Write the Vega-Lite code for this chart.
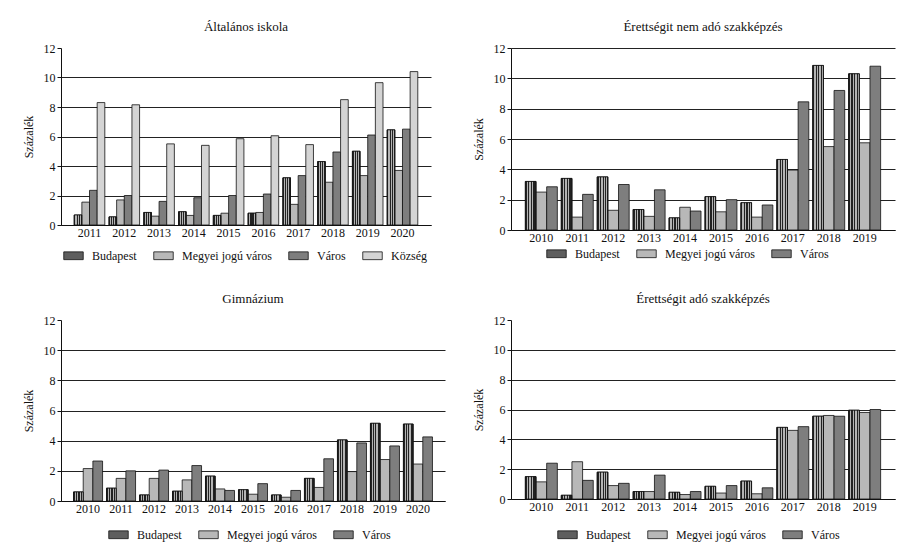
{
  "$schema": "https://vega.github.io/schema/vega-lite/v6.json",
  "background": "white",
  "padding": {"left": 22, "top": 21, "right": 4, "bottom": 4},
  "columns": 2,
  "spacing": {"row": 31, "column": 27},
  "config": {
    "font": "Liberation Serif, DejaVu Serif, serif",
    "view": {"stroke": null},
    "title": {"font": "Liberation Serif, DejaVu Serif, serif", "fontSize": 13, "fontWeight": "normal", "color": "#111", "offset": 8},
    "axis": {"labelFont": "Liberation Serif, DejaVu Serif, serif", "titleFont": "Liberation Serif, DejaVu Serif, serif", "labelFontSize": 12, "titleFontSize": 12, "titleFontWeight": "normal", "labelColor": "#111", "titleColor": "#111", "domainColor": "#111", "tickColor": "#111"},
    "axisX": {"ticks": false, "labelAngle": 0, "grid": false, "labelPadding": 2, "domainWidth": 1.2},
    "axisY": {"grid": true, "gridColor": "#222", "gridWidth": 1, "tickSize": 4, "labelPadding": 2, "titlePadding": 8, "domainWidth": 1},
    "legend": {"labelFont": "Liberation Serif, DejaVu Serif, serif", "labelFontSize": 12, "labelColor": "#111", "symbolStrokeColor": "#111", "symbolStrokeWidth": 0.8, "symbolType": "M-1,-0.4H1V0.4H-1Z", "symbolSize": 380, "columnPadding": 15, "labelOffset": 8},
    "bar": {"stroke": "#111", "strokeWidth": 0.8}
  },
  "datasets": {
    "alt": [
      {"ev":"2011","tipus":"Budapest","ertek":0.68},{"ev":"2011","tipus":"Megyei jogú város","ertek":1.55},{"ev":"2011","tipus":"Város","ertek":2.35},{"ev":"2011","tipus":"Község","ertek":8.3},
      {"ev":"2012","tipus":"Budapest","ertek":0.55},{"ev":"2012","tipus":"Megyei jogú város","ertek":1.7},{"ev":"2012","tipus":"Város","ertek":2.0},{"ev":"2012","tipus":"Község","ertek":8.15},
      {"ev":"2013","tipus":"Budapest","ertek":0.85},{"ev":"2013","tipus":"Megyei jogú város","ertek":0.6},{"ev":"2013","tipus":"Város","ertek":1.6},{"ev":"2013","tipus":"Község","ertek":5.5},
      {"ev":"2014","tipus":"Budapest","ertek":0.9},{"ev":"2014","tipus":"Megyei jogú város","ertek":0.65},{"ev":"2014","tipus":"Város","ertek":1.85},{"ev":"2014","tipus":"Község","ertek":5.4},
      {"ev":"2015","tipus":"Budapest","ertek":0.65},{"ev":"2015","tipus":"Megyei jogú város","ertek":0.8},{"ev":"2015","tipus":"Város","ertek":2.0},{"ev":"2015","tipus":"Község","ertek":5.85},
      {"ev":"2016","tipus":"Budapest","ertek":0.8},{"ev":"2016","tipus":"Megyei jogú város","ertek":0.85},{"ev":"2016","tipus":"Város","ertek":2.1},{"ev":"2016","tipus":"Község","ertek":6.05},
      {"ev":"2017","tipus":"Budapest","ertek":3.2},{"ev":"2017","tipus":"Megyei jogú város","ertek":1.4},{"ev":"2017","tipus":"Város","ertek":3.35},{"ev":"2017","tipus":"Község","ertek":5.45},
      {"ev":"2018","tipus":"Budapest","ertek":4.3},{"ev":"2018","tipus":"Megyei jogú város","ertek":2.9},{"ev":"2018","tipus":"Város","ertek":4.95},{"ev":"2018","tipus":"Község","ertek":8.5},
      {"ev":"2019","tipus":"Budapest","ertek":5.0},{"ev":"2019","tipus":"Megyei jogú város","ertek":3.35},{"ev":"2019","tipus":"Város","ertek":6.1},{"ev":"2019","tipus":"Község","ertek":9.65},
      {"ev":"2020","tipus":"Budapest","ertek":6.45},{"ev":"2020","tipus":"Megyei jogú város","ertek":3.7},{"ev":"2020","tipus":"Város","ertek":6.5},{"ev":"2020","tipus":"Község","ertek":10.4}
    ],
    "nem": [
      {"ev":"2010","tipus":"Budapest","ertek":3.2},{"ev":"2010","tipus":"Megyei jogú város","ertek":2.5},{"ev":"2010","tipus":"Város","ertek":2.85},
      {"ev":"2011","tipus":"Budapest","ertek":3.4},{"ev":"2011","tipus":"Megyei jogú város","ertek":0.85},{"ev":"2011","tipus":"Város","ertek":2.35},
      {"ev":"2012","tipus":"Budapest","ertek":3.5},{"ev":"2012","tipus":"Megyei jogú város","ertek":1.3},{"ev":"2012","tipus":"Város","ertek":3.0},
      {"ev":"2013","tipus":"Budapest","ertek":1.35},{"ev":"2013","tipus":"Megyei jogú város","ertek":0.9},{"ev":"2013","tipus":"Város","ertek":2.65},
      {"ev":"2014","tipus":"Budapest","ertek":0.8},{"ev":"2014","tipus":"Megyei jogú város","ertek":1.5},{"ev":"2014","tipus":"Város","ertek":1.25},
      {"ev":"2015","tipus":"Budapest","ertek":2.2},{"ev":"2015","tipus":"Megyei jogú város","ertek":1.2},{"ev":"2015","tipus":"Város","ertek":2.0},
      {"ev":"2016","tipus":"Budapest","ertek":1.8},{"ev":"2016","tipus":"Megyei jogú város","ertek":0.85},{"ev":"2016","tipus":"Város","ertek":1.65},
      {"ev":"2017","tipus":"Budapest","ertek":4.65},{"ev":"2017","tipus":"Megyei jogú város","ertek":3.95},{"ev":"2017","tipus":"Város","ertek":8.45},
      {"ev":"2018","tipus":"Budapest","ertek":10.85},{"ev":"2018","tipus":"Megyei jogú város","ertek":5.5},{"ev":"2018","tipus":"Város","ertek":9.2},
      {"ev":"2019","tipus":"Budapest","ertek":10.3},{"ev":"2019","tipus":"Megyei jogú város","ertek":5.75},{"ev":"2019","tipus":"Város","ertek":10.8}
    ],
    "gim": [
      {"ev":"2010","tipus":"Budapest","ertek":0.6},{"ev":"2010","tipus":"Megyei jogú város","ertek":2.15},{"ev":"2010","tipus":"Város","ertek":2.65},
      {"ev":"2011","tipus":"Budapest","ertek":0.85},{"ev":"2011","tipus":"Megyei jogú város","ertek":1.5},{"ev":"2011","tipus":"Város","ertek":2.0},
      {"ev":"2012","tipus":"Budapest","ertek":0.4},{"ev":"2012","tipus":"Megyei jogú város","ertek":1.5},{"ev":"2012","tipus":"Város","ertek":2.05},
      {"ev":"2013","tipus":"Budapest","ertek":0.65},{"ev":"2013","tipus":"Megyei jogú város","ertek":1.4},{"ev":"2013","tipus":"Város","ertek":2.35},
      {"ev":"2014","tipus":"Budapest","ertek":1.65},{"ev":"2014","tipus":"Megyei jogú város","ertek":0.8},{"ev":"2014","tipus":"Város","ertek":0.7},
      {"ev":"2015","tipus":"Budapest","ertek":0.75},{"ev":"2015","tipus":"Megyei jogú város","ertek":0.45},{"ev":"2015","tipus":"Város","ertek":1.15},
      {"ev":"2016","tipus":"Budapest","ertek":0.4},{"ev":"2016","tipus":"Megyei jogú város","ertek":0.25},{"ev":"2016","tipus":"Város","ertek":0.7},
      {"ev":"2017","tipus":"Budapest","ertek":1.5},{"ev":"2017","tipus":"Megyei jogú város","ertek":0.9},{"ev":"2017","tipus":"Város","ertek":2.8},
      {"ev":"2018","tipus":"Budapest","ertek":4.05},{"ev":"2018","tipus":"Megyei jogú város","ertek":1.95},{"ev":"2018","tipus":"Város","ertek":3.85},
      {"ev":"2019","tipus":"Budapest","ertek":5.15},{"ev":"2019","tipus":"Megyei jogú város","ertek":2.75},{"ev":"2019","tipus":"Város","ertek":3.65},
      {"ev":"2020","tipus":"Budapest","ertek":5.1},{"ev":"2020","tipus":"Megyei jogú város","ertek":2.45},{"ev":"2020","tipus":"Város","ertek":4.25}
    ],
    "ado": [
      {"ev":"2010","tipus":"Budapest","ertek":1.5},{"ev":"2010","tipus":"Megyei jogú város","ertek":1.15},{"ev":"2010","tipus":"Város","ertek":2.4},
      {"ev":"2011","tipus":"Budapest","ertek":0.25},{"ev":"2011","tipus":"Megyei jogú város","ertek":2.5},{"ev":"2011","tipus":"Város","ertek":1.25},
      {"ev":"2012","tipus":"Budapest","ertek":1.8},{"ev":"2012","tipus":"Megyei jogú város","ertek":0.9},{"ev":"2012","tipus":"Város","ertek":1.05},
      {"ev":"2013","tipus":"Budapest","ertek":0.5},{"ev":"2013","tipus":"Megyei jogú város","ertek":0.5},{"ev":"2013","tipus":"Város","ertek":1.6},
      {"ev":"2014","tipus":"Budapest","ertek":0.45},{"ev":"2014","tipus":"Megyei jogú város","ertek":0.3},{"ev":"2014","tipus":"Város","ertek":0.5},
      {"ev":"2015","tipus":"Budapest","ertek":0.85},{"ev":"2015","tipus":"Megyei jogú város","ertek":0.4},{"ev":"2015","tipus":"Város","ertek":0.9},
      {"ev":"2016","tipus":"Budapest","ertek":1.2},{"ev":"2016","tipus":"Megyei jogú város","ertek":0.35},{"ev":"2016","tipus":"Város","ertek":0.75},
      {"ev":"2017","tipus":"Budapest","ertek":4.8},{"ev":"2017","tipus":"Megyei jogú város","ertek":4.6},{"ev":"2017","tipus":"Város","ertek":4.85},
      {"ev":"2018","tipus":"Budapest","ertek":5.55},{"ev":"2018","tipus":"Megyei jogú város","ertek":5.6},{"ev":"2018","tipus":"Város","ertek":5.55},
      {"ev":"2019","tipus":"Budapest","ertek":5.95},{"ev":"2019","tipus":"Megyei jogú város","ertek":5.8},{"ev":"2019","tipus":"Város","ertek":6.0}
    ]
  },
  "resolve": {"scale": {"x": "independent", "y": "independent", "xOffset": "independent", "fill": "independent"}, "legend": {"fill": "independent"}, "axis": {"x": "independent", "y": "independent"}},
  "concat": [
    {
      "title": "Általános iskola",
      "width": 370, "height": 177,
      "data": {"name": "alt"},
      "encoding": {
        "x": {"field": "ev", "type": "ordinal", "title": null, "scale": {"paddingInner": 0.12, "paddingOuter": 0.38}},
        "xOffset": {"field": "tipus", "type": "nominal", "scale": {"domain": ["Budapest", "Megyei jogú város", "Város", "Község"]}},
        "y": {"field": "ertek", "type": "quantitative", "title": "Százalék", "scale": {"domain": [0, 12]}, "axis": {"values": [0, 2, 4, 6, 8, 10, 12], "gridColor": {"condition": {"test": "datum.value == 12", "value": "transparent"}, "value": "#222"}}}
      },
      "layer": [
        {
          "mark": {"type": "bar"},
          "encoding": {
            "fill": {"field": "tipus", "type": "nominal", "scale": {"domain": ["Budapest", "Megyei jogú város", "Város", "Község"], "range": ["#5e5e5e", "#b8b8b8", "#7e7e7e", "#d4d4d4"]}, "legend": {"title": null, "orient": "none", "direction": "horizontal", "legendX": 2, "legendY": 197}}
          }
        },
        {
          "transform": [{"filter": "datum.tipus === 'Budapest'"}],
          "mark": {"type": "bar", "fill": {"gradient": "linear", "x1": 0, "y1": 0, "x2": 1, "y2": 0, "stops": [{"offset": 0, "color": "#222"}, {"offset": 0.16, "color": "#222"}, {"offset": 0.16, "color": "#b4b4b4"}, {"offset": 0.31, "color": "#b4b4b4"}, {"offset": 0.31, "color": "#222"}, {"offset": 0.45, "color": "#222"}, {"offset": 0.45, "color": "#b4b4b4"}, {"offset": 0.57, "color": "#b4b4b4"}, {"offset": 0.57, "color": "#222"}, {"offset": 0.71, "color": "#222"}, {"offset": 0.71, "color": "#b4b4b4"}, {"offset": 0.85, "color": "#b4b4b4"}, {"offset": 0.85, "color": "#222"}, {"offset": 1, "color": "#222"}]}}
        }
      ]
    },
    {
      "title": "Érettségit nem adó szakképzés",
      "width": 384, "height": 182,
      "data": {"name": "nem"},
      "encoding": {
        "x": {"field": "ev", "type": "ordinal", "title": null, "scale": {"paddingInner": 0.11, "paddingOuter": 0.4}},
        "xOffset": {"field": "tipus", "type": "nominal", "scale": {"domain": ["Budapest", "Megyei jogú város", "Város"]}},
        "y": {"field": "ertek", "type": "quantitative", "title": "Százalék", "scale": {"domain": [0, 12]}, "axis": {"values": [0, 2, 4, 6, 8, 10, 12]}}
      },
      "layer": [
        {
          "mark": {"type": "bar"},
          "encoding": {
            "fill": {"field": "tipus", "type": "nominal", "scale": {"domain": ["Budapest", "Megyei jogú város", "Város"], "range": ["#5e5e5e", "#b8b8b8", "#7e7e7e"]}, "legend": {"title": null, "orient": "none", "direction": "horizontal", "legendX": 35, "legendY": 195}}
          }
        },
        {
          "transform": [{"filter": "datum.tipus === 'Budapest'"}],
          "mark": {"type": "bar", "fill": {"gradient": "linear", "x1": 0, "y1": 0, "x2": 1, "y2": 0, "stops": [{"offset": 0, "color": "#222"}, {"offset": 0.13, "color": "#222"}, {"offset": 0.13, "color": "#b4b4b4"}, {"offset": 0.26, "color": "#b4b4b4"}, {"offset": 0.26, "color": "#222"}, {"offset": 0.38, "color": "#222"}, {"offset": 0.38, "color": "#b4b4b4"}, {"offset": 0.5, "color": "#b4b4b4"}, {"offset": 0.5, "color": "#222"}, {"offset": 0.62, "color": "#222"}, {"offset": 0.62, "color": "#b4b4b4"}, {"offset": 0.74, "color": "#b4b4b4"}, {"offset": 0.74, "color": "#222"}, {"offset": 0.87, "color": "#222"}, {"offset": 0.87, "color": "#b4b4b4"}, {"offset": 0.93, "color": "#b4b4b4"}, {"offset": 0.93, "color": "#222"}, {"offset": 1, "color": "#222"}]}}
        }
      ]
    },
    {
      "title": "Gimnázium",
      "width": 384, "height": 181,
      "data": {"name": "gim"},
      "encoding": {
        "x": {"field": "ev", "type": "ordinal", "title": null, "scale": {"paddingInner": 0.12, "paddingOuter": 0.38}},
        "xOffset": {"field": "tipus", "type": "nominal", "scale": {"domain": ["Budapest", "Megyei jogú város", "Város"]}},
        "y": {"field": "ertek", "type": "quantitative", "title": "Százalék", "scale": {"domain": [0, 12]}, "axis": {"values": [0, 2, 4, 6, 8, 10, 12], "gridColor": {"condition": {"test": "datum.value == 12", "value": "transparent"}, "value": "#222"}}}
      },
      "layer": [
        {
          "mark": {"type": "bar"},
          "encoding": {
            "fill": {"field": "tipus", "type": "nominal", "scale": {"domain": ["Budapest", "Megyei jogú város", "Város"], "range": ["#5e5e5e", "#b8b8b8", "#7e7e7e"]}, "legend": {"title": null, "orient": "none", "direction": "horizontal", "legendX": 47, "legendY": 204}}
          }
        },
        {
          "transform": [{"filter": "datum.tipus === 'Budapest'"}],
          "mark": {"type": "bar", "fill": {"gradient": "linear", "x1": 0, "y1": 0, "x2": 1, "y2": 0, "stops": [{"offset": 0, "color": "#222"}, {"offset": 0.13, "color": "#222"}, {"offset": 0.13, "color": "#b4b4b4"}, {"offset": 0.26, "color": "#b4b4b4"}, {"offset": 0.26, "color": "#222"}, {"offset": 0.38, "color": "#222"}, {"offset": 0.38, "color": "#b4b4b4"}, {"offset": 0.5, "color": "#b4b4b4"}, {"offset": 0.5, "color": "#222"}, {"offset": 0.62, "color": "#222"}, {"offset": 0.62, "color": "#b4b4b4"}, {"offset": 0.74, "color": "#b4b4b4"}, {"offset": 0.74, "color": "#222"}, {"offset": 0.87, "color": "#222"}, {"offset": 0.87, "color": "#b4b4b4"}, {"offset": 0.93, "color": "#b4b4b4"}, {"offset": 0.93, "color": "#222"}, {"offset": 1, "color": "#222"}]}}
        }
      ]
    },
    {
      "title": "Érettségit adó szakképzés",
      "width": 384, "height": 179,
      "data": {"name": "ado"},
      "encoding": {
        "x": {"field": "ev", "type": "ordinal", "title": null, "scale": {"paddingInner": 0.11, "paddingOuter": 0.4}},
        "xOffset": {"field": "tipus", "type": "nominal", "scale": {"domain": ["Budapest", "Megyei jogú város", "Város"]}},
        "y": {"field": "ertek", "type": "quantitative", "title": "Százalék", "scale": {"domain": [0, 12]}, "axis": {"values": [0, 2, 4, 6, 8, 10, 12], "gridColor": {"condition": {"test": "datum.value == 12", "value": "transparent"}, "value": "#222"}}}
      },
      "layer": [
        {
          "mark": {"type": "bar"},
          "encoding": {
            "fill": {"field": "tipus", "type": "nominal", "scale": {"domain": ["Budapest", "Megyei jogú város", "Város"], "range": ["#5e5e5e", "#b8b8b8", "#7e7e7e"]}, "legend": {"title": null, "orient": "none", "direction": "horizontal", "legendX": 46, "legendY": 204}}
          }
        },
        {
          "transform": [{"filter": "datum.tipus === 'Budapest'"}],
          "mark": {"type": "bar", "fill": {"gradient": "linear", "x1": 0, "y1": 0, "x2": 1, "y2": 0, "stops": [{"offset": 0, "color": "#222"}, {"offset": 0.13, "color": "#222"}, {"offset": 0.13, "color": "#b4b4b4"}, {"offset": 0.26, "color": "#b4b4b4"}, {"offset": 0.26, "color": "#222"}, {"offset": 0.38, "color": "#222"}, {"offset": 0.38, "color": "#b4b4b4"}, {"offset": 0.5, "color": "#b4b4b4"}, {"offset": 0.5, "color": "#222"}, {"offset": 0.62, "color": "#222"}, {"offset": 0.62, "color": "#b4b4b4"}, {"offset": 0.74, "color": "#b4b4b4"}, {"offset": 0.74, "color": "#222"}, {"offset": 0.87, "color": "#222"}, {"offset": 0.87, "color": "#b4b4b4"}, {"offset": 0.93, "color": "#b4b4b4"}, {"offset": 0.93, "color": "#222"}, {"offset": 1, "color": "#222"}]}}
        }
      ]
    }
  ]
}
